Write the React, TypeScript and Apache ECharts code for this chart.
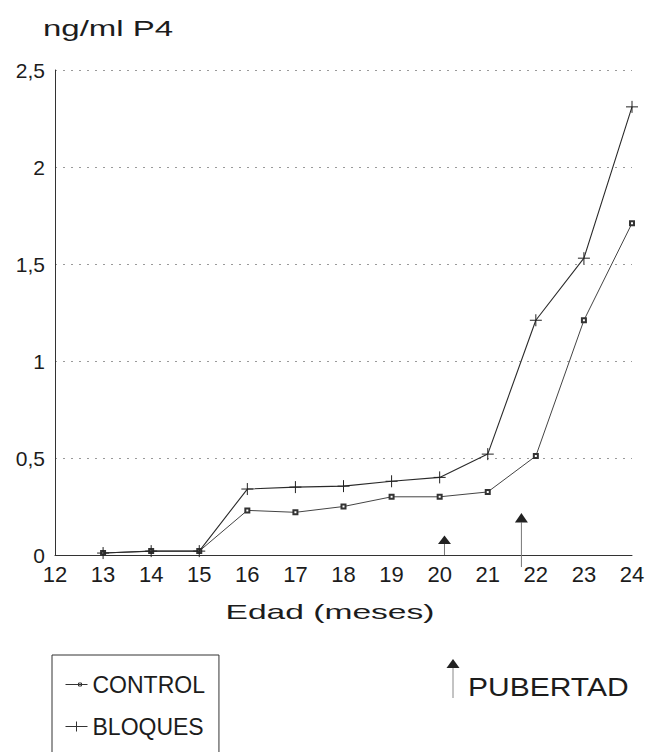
import React, { useEffect, useRef } from "react";
import * as echarts from "echarts";

const months = [13, 14, 15, 16, 17, 18, 19, 20, 21, 22, 23, 24];
const control = [0.01, 0.02, 0.02, 0.23, 0.22, 0.25, 0.3, 0.3, 0.325, 0.51, 1.21, 1.71];
const bloques = [0.01, 0.02, 0.02, 0.34, 0.35, 0.355, 0.38, 0.4, 0.52, 1.21, 1.53, 2.31];

// pubertad arrows: x position, line base, triangle base, triangle tip
const arrowX = [20.1, 21.7];
const arrowBase = [0, -0.062];
const arrowNeck = [0.057, 0.168];
const arrowTip = [0.1, 0.216];

const FONT = "Liberation Sans, Arial, Helvetica, sans-serif";
const INK = "#1c1c1c";

export default function App() {
  const ref = useRef<HTMLDivElement>(null);

  useEffect(() => {
    document.body.style.margin = "0";
    if (!ref.current) return;
    const chart = echarts.init(ref.current, undefined, { renderer: "svg" });

    const option: any = {
      animation: false,
      backgroundColor: "#ffffff",
      grid: { left: 55, right: 17, top: 70, bottom: 197 },
      xAxis: {
        type: "value",
        min: 12,
        max: 24,
        interval: 1,
        axisLine: { show: true, lineStyle: { color: "#333", width: 1 } },
        axisTick: { show: false },
        splitLine: { show: false },
        axisLabel: { fontSize: 22, fontFamily: FONT, color: INK, margin: 8 },
      },
      yAxis: {
        type: "value",
        min: 0,
        max: 2.5,
        interval: 0.5,
        axisLine: { show: true, lineStyle: { color: "#333", width: 1 } },
        axisTick: { show: false },
        splitLine: {
          show: true,
          lineStyle: { color: "#9a9a9a", type: [2, 6], width: 1 },
        },
        axisLabel: {
          fontSize: 21,
          fontFamily: FONT,
          color: INK,
          margin: 10,
          formatter: (v: number) => String(v).replace(".", ","),
        },
      },
      legend: {
        orient: "vertical",
        left: 52,
        top: 655,
        height: 200,
        itemWidth: 22,
        itemHeight: 14,
        itemGap: 19,
        padding: [18, 14, 30, 13],
        borderColor: "#333",
        borderWidth: 1,
        textStyle: { fontSize: 23, fontFamily: FONT, color: INK },
        itemStyle: { color: "#ffffff", borderColor: "#333", borderWidth: 1 },
        data: [
          {
            name: "CONTROL",
            icon: "path://M0,0M22,14M0,7H22M13,5.5H16V8.5H13Z",
          },
          {
            name: "BLOQUES",
            icon: "path://M0,0M22,14M0,7H22M11,2V12",
          },
        ],
      },
      series: [
        {
          name: "CONTROL",
          type: "line",
          data: months.map((m, i) => [m, control[i]]),
          symbol: "emptyRect",
          symbolSize: 4,
          lineStyle: { color: "#444", width: 1 },
          itemStyle: { color: "#333", borderColor: "#333", borderWidth: 1 },
          z: 3,
        },
        {
          name: "BLOQUES",
          type: "line",
          data: months.map((m, i) => [m, bloques[i]]),
          symbol: "path://M0,5H10M5,0V10",
          symbolSize: 12,
          lineStyle: { color: "#2a2a2a", width: 1.1 },
          itemStyle: { color: "none", borderColor: "#222", borderWidth: 1 },
          z: 4,
        },
        {
          name: "PUBERTAD",
          type: "custom",
          clip: false,
          data: arrowX.map((x, i) => [x, arrowBase[i], arrowNeck[i], arrowTip[i]]),
          renderItem: (_params: any, api: any) => {
            const x = api.value(0);
            const pb = api.coord([x, api.value(1)]);
            const pn = api.coord([x, api.value(2)]);
            const pt = api.coord([x, api.value(3)]);
            return {
              type: "group",
              children: [
                {
                  type: "line",
                  shape: { x1: pb[0], y1: pb[1], x2: pn[0], y2: pn[1] },
                  style: { stroke: "#777", lineWidth: 1 },
                },
                {
                  type: "polygon",
                  shape: {
                    points: [
                      [pt[0], pt[1]],
                      [pn[0] - 6.5, pn[1]],
                      [pn[0] + 6.5, pn[1]],
                    ],
                  },
                  style: { fill: "#222" },
                },
              ],
            };
          },
          z: 2,
        },
      ],
      graphic: [
        {
          type: "text",
          x: 43,
          y: 29,
          scaleX: 1.5,
          style: {
            text: "ng/ml P4",
            fontSize: 22,
            fontFamily: FONT,
            fill: INK,
            textAlign: "left",
            textVerticalAlign: "middle",
          },
        },
        {
          type: "text",
          x: 330,
          y: 612,
          scaleX: 1.6,
          style: {
            text: "Edad (meses)",
            fontSize: 21,
            fontFamily: FONT,
            fill: INK,
            textAlign: "center",
            textVerticalAlign: "middle",
          },
        },
        {
          type: "line",
          shape: { x1: 453, y1: 668, x2: 453, y2: 698 },
          style: { stroke: "#888", lineWidth: 1 },
        },
        {
          type: "polygon",
          shape: { points: [[453, 659], [446.5, 668], [459.5, 668]] },
          style: { fill: "#222" },
        },
        {
          type: "text",
          x: 468,
          y: 687,
          scaleX: 1.2,
          style: {
            text: "PUBERTAD",
            fontSize: 25,
            fontFamily: FONT,
            fill: INK,
            textAlign: "left",
            textVerticalAlign: "middle",
          },
        },
      ],
    };

    chart.setOption(option);
    return () => chart.dispose();
  }, []);

  return <div ref={ref} style={{ width: 649, height: 752 }} />;
}
